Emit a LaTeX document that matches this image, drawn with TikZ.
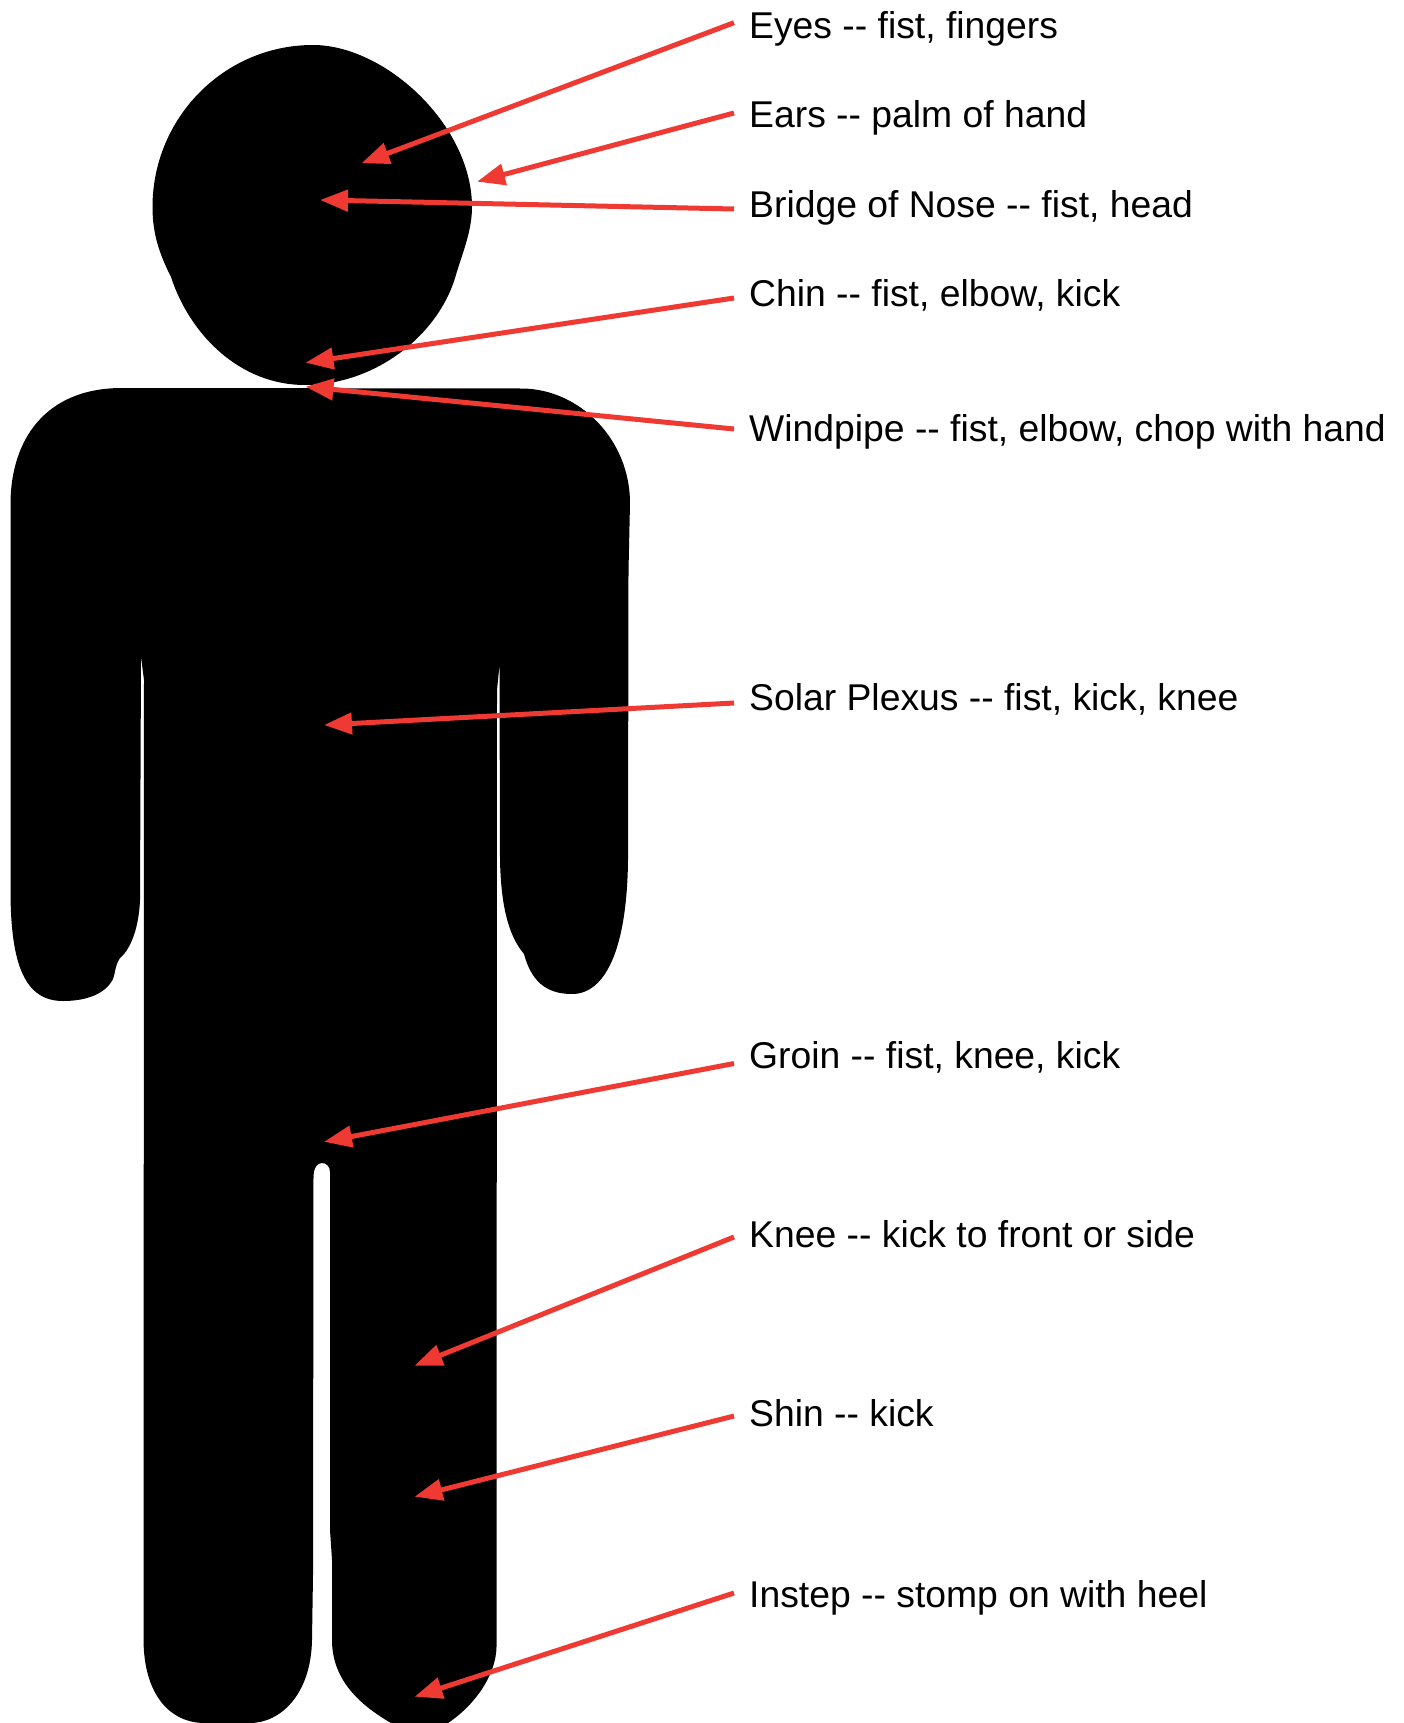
\documentclass[tikz,border=0pt]{standalone}
\usepackage{fontspec}
\setmainfont{Liberation Sans}
\usetikzlibrary{arrows.meta}
\definecolor{hitred}{RGB}{238,58,50}
\tikzset{
  hit/.style={-{Triangle[length=28pt,width=21pt]},line width=5pt,hitred},
  lbl/.style={anchor=base west,inner ysep=0pt,inner xsep=15pt,text height=26pt,text depth=7pt,
    font=\fontsize{37.3}{40}\selectfont}
}
\begin{document}
\begin{tikzpicture}[x=1pt,y=-1pt]
\useasboundingbox (0,0) rectangle (1403,1723);
% head
\fill[black] (152.5,207) .. controls (152.5,118) and (224,45) .. (313,45) .. controls (385,45) and (472,125) .. (472,207)
  .. controls (472,230) and (463,252) .. (456.5,273) .. controls (440,335) and (375,385) .. (305,385)
  .. controls (240,385) and (190,335) .. (171,277) .. controls (160,255) and (152.5,235) .. (152.5,207)--cycle;
% body
\fill[black] (122,388)--(522,388.5) .. controls (580,389) and (630,440) .. (630,503)
  --(628.5,571)--(628,860) .. controls (627,950) and (605,994) .. (572,994) .. controls (545,994) and (531,980) .. (524,954)
  .. controls (508,935) and (501,905) .. (500,860)--(499.5,665)--(497,690)--(496.5,1647) %right leg
  .. controls (496,1675) and (475,1705) .. (448,1723)--(391,1723) .. controls (360,1705) and (332,1680) .. (332,1640)
  --(332,1560)--(330,1530)--(330,1172) .. controls (330,1166) and (326,1163) .. (322,1163)
  .. controls (317,1163) and (314,1168) .. (313.5,1175)--(313,1575)--(312,1640) %left leg
  .. controls (311,1695) and (280,1723) .. (250,1723)--(205,1723) .. controls (170,1723) and (144,1695) .. (143.5,1640)
  --(144,680)--(141,657)--(140,900) .. controls (139,925) and (132,948) .. (120,958)
  .. controls (115,965) and (115,975) .. (113,979) .. controls (106,993) and (88,1001) .. (63,1001)
  .. controls (25,1001) and (10.5,965) .. (10.5,890)
  --(10.5,503) .. controls (11,440) and (45,388) .. (122,388)--cycle;
% labels
\node[lbl] (eyes) at (734,38.5) {Eyes -{}- fist, fingers};
\node[lbl] (ears) at (734,127.5) {Ears -{}- palm of hand};
\node[lbl] (nose) at (734,217) {Bridge of Nose -{}- fist, head};
\node[lbl] (chin) at (734,306) {Chin -{}- fist, elbow, kick};
\node[lbl] (windpipe) at (734,441) {Windpipe -{}- fist, elbow, chop with hand};
\node[lbl] (plexus) at (734,710) {Solar Plexus -{}- fist, kick, knee};
\node[lbl] (groin) at (734,1068) {Groin -{}- fist, knee, kick};
\node[lbl] (knee) at (734,1247) {Knee -{}- kick to front or side};
\node[lbl] (shin) at (734,1426) {Shin -{}- kick};
\node[lbl] (instep) at (734,1607) {Instep -{}- stomp on with heel};
% arrow tips
\coordinate (eyestip) at (361.4,163.3);
\coordinate (earstip) at (477,181.7);
\coordinate (nosetip) at (320,200);
\coordinate (chintip) at (305.5,362.7);
\coordinate (windpipetip) at (305.5,386.7);
\coordinate (plexustip) at (324,725);
\coordinate (grointip) at (324,1141.8);
\coordinate (kneetip) at (414.5,1365.7);
\coordinate (shintip) at (414.5,1496.7);
\coordinate (insteptip) at (414.5,1696.7);
% arrows
\draw[hit] ([yshift=6.3pt]eyes.west)--(eyestip);
\draw[hit] ([yshift=5pt]ears.west)--(earstip);
\draw[hit] ([yshift=-1.5pt]nose.west)--(nosetip);
\draw[hit] ([yshift=-1.5pt]chin.west)--(chintip);
\draw[hit] ([yshift=2.5pt]windpipe.west)--(windpipetip);
\draw[hit] ([yshift=-2.5pt]plexus.west)--(plexustip);
\draw[hit] ([yshift=-5pt]groin.west)--(grointip);
\draw[hit] ([yshift=0.5pt]knee.west)--(kneetip);
\draw[hit] ([yshift=0.5pt]shin.west)--(shintip);
\draw[hit] ([yshift=4.5pt]instep.west)--(insteptip);
\end{tikzpicture}
\end{document}
